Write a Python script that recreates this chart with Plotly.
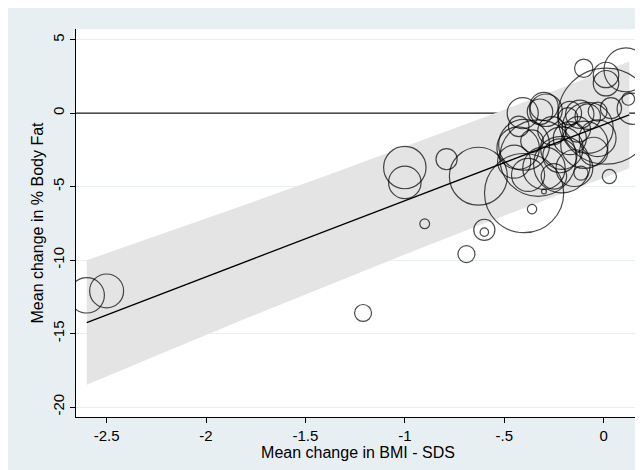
import plotly.graph_objects as go

# ---- data ----
bmi_change = [-2.60, -2.50, -1.21, -1.00, -1.00, -0.79, -0.90, -0.69, -0.63, -0.60,
              -0.60, -0.36, -0.40, -0.10, 0.112, 0.012, 0.012, 0.029, 0.012, -0.407,
              -0.30, -0.29, -0.32, -0.427, -0.17, -0.12, -0.08, 0.037, 0.124, 0.146,
              -0.08, -0.33, -0.21, -0.21, -0.30, -0.43, -0.45, -0.38, -0.147, -0.097,
              -0.03, -0.30, -0.114, -0.17, -0.03, -0.40, -0.26, -0.22, -0.13, -0.36,
              -0.05, -0.25, -0.18]
fat_change = [-12.4, -12.1, -13.6, -3.7, -4.71, -3.13, -7.53, -9.59, -4.29, -7.94,
              -8.1, -6.53, -5.44, 3.06, 2.95, 2.6, 2.04, -4.31, -0.2, 0.0,
              0.46, 0.2, 0.1, -0.9, 0.0, -0.07, -0.23, 0.34, 0.97, 0.3,
              -1.0, -3.06, -2.38, -3.5, -3.74, -2.38, -3.3, -4.2, -3.74, -2.15,
              -1.7, -5.33, -4.08, -1.7, 0.11, -2.15, -1.2, -2.9, -1.1, -1.9,
              -2.6, -4.3, -0.3]
weight = [156, 144, 36, 225, 132, 56, 12, 36, 420, 56,
          9, 11, 784, 42, 240, 81, 81, 25, 1156, 121,
          100, 132, 81, 53, 69, 100, 81, 56, 20, 121,
          324, 729, 225, 400, 225, 225, 137, 137, 169, 279,
          169, 3, 25, 137, 45, 324, 100, 144, 81, 64,
          100, 81, 49]

fit_x = [-2.60, 0.129]
fit_y = [-14.25, -0.11]

band_x = [-2.6, -2.2, -1.8, -1.4, -1.0, -0.6, -0.2, 0.129]
band_upper = [-10.01, -8.14, -6.22, -4.28, -2.30, -0.28, 1.78, 3.52]
band_lower = [-18.49, -16.22, -13.98, -11.78, -9.62, -7.50, -5.42, -3.74]

x_ticks = [-2.5, -2, -1.5, -1, -0.5, 0]
x_ticklabels = ["-2.5", "-2", "-1.5", "-1", "-.5", "0"]
y_ticks = [5, 0, -5, -10, -15, -20]
y_ticklabels = ["5", "0", "-5", "-10", "-15", "-20"]

x_range = [-2.654, 0.183]
y_range = [-20.68, 5.73]

BG = "#e8eff2"
FONT = "Liberation Sans, Arial, Helvetica, sans-serif"

fig = go.Figure()

# reference line at 0 (drawn first, hidden by the band)
fig.add_trace(go.Scatter(x=x_range, y=[0, 0], mode="lines",
                         line=dict(color="#1a1a1a", width=1.3),
                         hoverinfo="skip", showlegend=False))

# confidence band
fig.add_trace(go.Scatter(x=band_x + band_x[::-1],
                         y=band_upper + band_lower[::-1],
                         fill="toself", fillcolor="#e4e4e4",
                         line=dict(width=0), mode="lines",
                         hoverinfo="skip", showlegend=False))

# fitted line
fig.add_trace(go.Scatter(x=fit_x, y=fit_y, mode="lines",
                         line=dict(color="black", width=1.3),
                         showlegend=False))

# bubbles
fig.add_trace(go.Scatter(x=bmi_change, y=fat_change, mode="markers",
                         marker=dict(size=weight, sizemode="area", sizeref=0.25,
                                     color="rgba(0,0,0,0)",
                                     line=dict(color="black", width=1.2)),
                         showlegend=False))

fig.update_layout(
    width=643, height=470,
    margin=dict(l=68, r=11, t=21, b=61),
    paper_bgcolor=BG, plot_bgcolor="white",
    font=dict(family=FONT, size=15, color="black"),
    showlegend=False,
)

fig.update_xaxes(range=x_range, tickvals=x_ticks, ticktext=x_ticklabels,
                 automargin=False,
                 showgrid=False, zeroline=False,
                 showline=True, linecolor="black", linewidth=1,
                 ticks="outside", ticklen=5, tickcolor="black", tickwidth=1,
                 tickfont=dict(size=15),
                 title=dict(text="Mean change in BMI - SDS", font=dict(size=16), standoff=2))

fig.update_yaxes(range=y_range, tickvals=y_ticks, ticktext=y_ticklabels,
                 automargin=False,
                 showgrid=True, gridcolor="#e6eff1", gridwidth=1, zeroline=False,
                 showline=True, linecolor="black", linewidth=1,
                 ticks="outside", ticklen=5, tickcolor="black", tickwidth=1,
                 tickangle=-90, tickfont=dict(size=15),
                 title=dict(text="Mean change in % Body Fat", font=dict(size=16), standoff=2))

fig.write_html("out.html")
